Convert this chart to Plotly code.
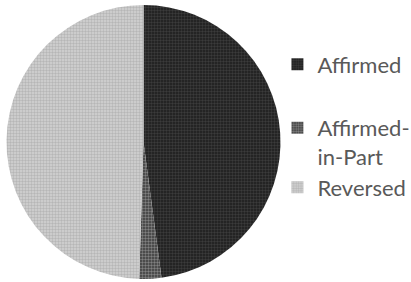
import plotly.graph_objects as go

labels = ["Affirmed", "Affirmed-<br>in-Part", "Reversed"]
values = [47.9, 2.6, 49.5]
bg_colors = ["#1c1c1c", "#3a3a3a", "#d2d2d2"]
fg_colors = ["#5a5a5a", "#c8c8c8", "#9a9a9a"]

fig = go.Figure()
fig.add_trace(go.Pie(
    labels=labels,
    values=values,
    sort=False,
    direction="clockwise",
    rotation=0,
    textinfo="none",
    hoverinfo="label+percent",
    showlegend=False,
    marker=dict(
        colors=bg_colors,
        line=dict(width=0),
        pattern=dict(shape=".", fgcolor=fg_colors, bgcolor=bg_colors, size=3, solidity=0.5, fillmode="overlay"),
    ),
    domain=dict(x=[6/411, 281/411], y=[3/282, 277/282]),
))

# legend entries (one legend per slice so the spacing can follow the reference)
legend_names = ["legend", "legend2", "legend3"]
legend_y = [1 - 66/282, 1 - 131/282, 1 - 189/282]
for lab, bg, fg, lg in zip(labels, bg_colors, fg_colors, legend_names):
    fig.add_trace(go.Bar(
        x=[None], y=[None], name=lab, legend=lg, showlegend=True,
        marker=dict(color=bg, line=dict(width=0),
                    pattern=dict(shape=".", fgcolor=fg, bgcolor=bg, size=3, solidity=0.5, fillmode="overlay")),
        hoverinfo="skip",
    ))

leg_common = dict(x=0.675, xanchor="left", yanchor="top", valign="top",
                  font=dict(family="Lato, Carlito, Calibri, sans-serif", size=22, color="#595959"),
                  itemwidth=30, bgcolor="rgba(0,0,0,0)")
off = 0.08
fig.update_layout(
    width=411, height=282,
    margin=dict(l=0, r=0, t=0, b=0, autoexpand=False),
    paper_bgcolor="white",
    plot_bgcolor="white",
    font=dict(family="Lato, Carlito, Calibri, sans-serif", size=22, color="#595959"),
    xaxis=dict(visible=False),
    yaxis=dict(visible=False),
    legend=dict(y=legend_y[0] + off, **leg_common),
    legend2=dict(y=legend_y[1] + off + 0.005, **leg_common),
    legend3=dict(y=legend_y[2] + off, **leg_common),
)

fig.write_html("out.html", config={"displayModeBar": False},
               post_script="document.body.style.margin='0px';document.body.style.overflow='hidden';")
